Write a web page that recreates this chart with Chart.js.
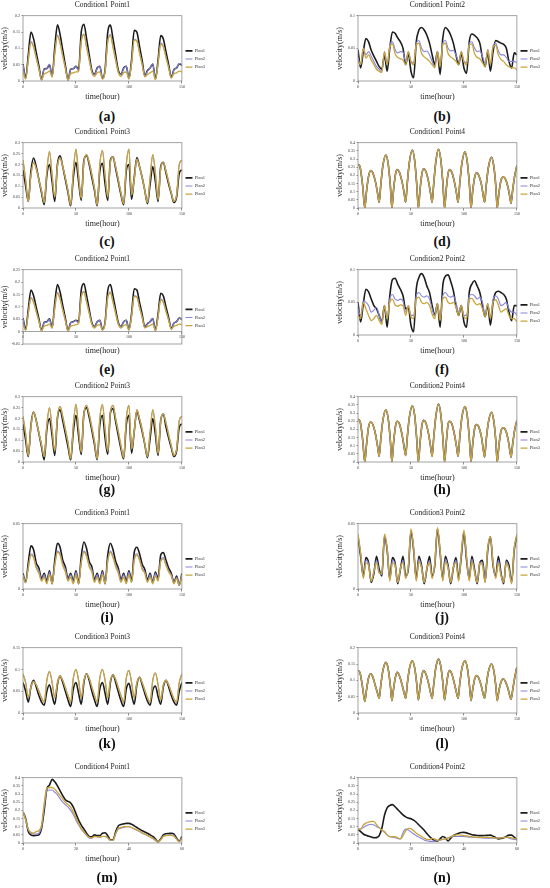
<!DOCTYPE html>
<html>
<head>
<meta charset="utf-8">
<script src="https://cdn.jsdelivr.net/npm/chart.js@4.4.1/dist/chart.umd.min.js"></script>
<style>
  html, body { margin: 0; padding: 0; background: #fff; }
  #fig { position: relative; width: 550px; height: 888px; overflow: hidden; background: #fff; }
  .panel { position: absolute; }
  .tag { position: absolute; font: bold 14px "Liberation Serif", "DejaVu Serif", serif; color: #111;
         transform: translate(-50%, -50%); white-space: nowrap; }
</style>
</head>
<body>
<div id="fig"></div>
<script>
'use strict';

// --- time axes (hours) ---
const T150 = [
  0, 2.5, 5, 7.5, 10, 12.5, 15, 17.5, 20, 22.5,
  25, 27.5, 30, 32.5, 35, 37.5, 40, 42.5, 45, 47.5,
  50, 52.5, 55, 57.5, 60, 62.5, 65, 67.5, 70, 72.5,
  75, 77.5, 80, 82.5, 85, 87.5, 90, 92.5, 95, 97.5,
  100, 102.5, 105, 107.5, 110, 112.5, 115, 117.5, 120, 122.5,
  125, 127.5, 130, 132.5, 135, 137.5, 140, 142.5, 145, 147.5,
  150];
// key times for the Point4 panels (peaks and troughs)
const T150K = [
  0, 2, 4.5, 6.4, 8, 10, 12, 14, 16.5, 18.5,
  20, 21.5, 23.5, 26.3, 28.5, 30.5, 32, 33.6, 35.5, 37,
  39, 41.5, 43.5, 45, 46.5, 48.5, 51.3, 53.5, 55.5, 57,
  58.6, 60.5, 62, 64, 66.5, 68.5, 70, 71.5, 73.5, 76,
  78.2, 80.2, 81.7, 83.3, 85, 86.5, 88.5, 91, 93, 94.5,
  96, 98, 101, 103.2, 105.2, 106.7, 108.3, 110.2, 112, 114,
  116.5, 118, 119.5, 121, 123, 126, 128.2, 130.2, 131.4, 133,
  135, 137, 139, 141.5, 143, 144.5, 146, 148, 150];
const T60 = [
  0, 1, 2, 3, 4, 5, 6, 7, 8, 9,
  10, 11, 12, 13, 14, 15, 16, 17, 18, 19,
  20, 21, 22, 23, 24, 25, 26, 27, 28, 29,
  30, 31, 32, 33, 34, 35, 36, 37, 38, 39,
  40, 41, 42, 43, 44, 45, 46, 47, 48, 49,
  50, 51, 52, 53, 54, 55, 56, 57, 58, 59,
  60];

const PLANS = ['Plan1', 'Plan2', 'Plan3'];

// --- (a) Condition1 Point1 ---
const a1 = [
  .052, .008, .080, .150, .129, .087, .046, .004, .037, .038,
  .050, .015, .103, .172, .143, .095, .048, .003, .036, .038,
  .045, .036, .150, .174, .130, .080, .032, .020, .040, .045,
  .008, .035, .149, .171, .128, .079, .032, .020, .040, .045,
  .008, .065, .155, .150, .106, .062, .016, .032, .040, .052,
  .005, .064, .139, .129, .089, .050, .011, .035, .040, .053,
  .048];
const a2 = [
  .050, .007, .066, .121, .106, .072, .038, .004, .036, .038,
  .052, .013, .085, .141, .118, .078, .040, .003, .035, .038,
  .046, .030, .123, .144, .107, .066, .027, .020, .038, .046,
  .007, .029, .122, .142, .105, .065, .027, .020, .038, .046,
  .007, .054, .128, .124, .087, .051, .014, .030, .040, .053,
  .005, .053, .116, .106, .073, .041, .010, .034, .040, .054,
  .050];
const a3 = [
  .030, .006, .064, .118, .103, .070, .037, .004, .022, .025,
  .030, .012, .083, .138, .115, .076, .038, .003, .022, .025,
  .028, .029, .120, .142, .104, .064, .026, .014, .025, .028,
  .006, .028, .119, .140, .102, .063, .026, .014, .025, .028,
  .006, .052, .126, .122, .086, .050, .013, .020, .025, .030,
  .004, .052, .113, .104, .072, .040, .009, .022, .025, .030,
  .028];

// --- (b) Condition1 Point2 ---
const b1 = [
  .048, .020, .045, .065, .060, .047, .038, .030, .022, .018,
  .040, .015, .050, .075, .073, .066, .060, .050, .025, .042,
  .015, .005, .060, .078, .082, .078, .070, .058, .040, .025,
  .045, .010, .065, .082, .078, .070, .058, .040, .025, .042,
  .020, .012, .060, .072, .070, .066, .058, .035, .022, .044,
  .015, .045, .062, .060, .058, .056, .050, .030, .020, .043,
  .040];
const b2 = [
  .035, .025, .050, .040, .045, .038, .030, .022, .018, .015,
  .045, .025, .055, .060, .048, .043, .045, .044, .030, .045,
  .030, .028, .058, .062, .050, .045, .046, .040, .030, .022,
  .045, .025, .058, .062, .050, .046, .047, .040, .030, .045,
  .030, .028, .058, .060, .050, .045, .046, .038, .027, .048,
  .027, .054, .058, .046, .040, .040, .036, .030, .030, .030,
  .028];
const b3 = [
  .030, .025, .050, .035, .040, .032, .025, .018, .015, .013,
  .045, .025, .052, .057, .042, .036, .034, .032, .025, .045,
  .030, .025, .055, .058, .042, .037, .034, .030, .025, .020,
  .045, .022, .055, .058, .042, .037, .034, .030, .025, .045,
  .030, .025, .055, .057, .042, .036, .034, .028, .022, .048,
  .025, .052, .055, .040, .033, .030, .025, .022, .020, .020,
  .017];

// --- (c) Condition1 Point3 ---
const c1 = [
  .175, .100, .030, .170, .230, .190, .130, .070, .015, .150,
  .200, .120, .030, .200, .240, .190, .130, .070, .010, .140,
  .210, .120, .035, .220, .240, .200, .140, .080, .010, .170,
  .205, .110, .035, .220, .235, .180, .120, .060, .015, .170,
  .200, .040, .140, .232, .190, .140, .080, .020, .110, .190,
  .120, .030, .190, .210, .160, .110, .065, .025, .050, .160,
  .175];
const c3 = [
  .220, .130, .030, .150, .210, .180, .130, .080, .025, .170,
  .260, .150, .050, .190, .230, .190, .140, .080, .015, .170,
  .270, .150, .045, .210, .245, .210, .155, .090, .015, .200,
  .265, .150, .050, .210, .235, .190, .130, .070, .020, .200,
  .270, .060, .130, .225, .190, .140, .080, .025, .140, .245,
  .160, .040, .180, .210, .170, .120, .070, .030, .060, .200,
  .220];
const c2 = c3; // Plan2 lies under Plan3 in the picture

// --- (d) Condition1 Point4 ---
const d1 = [
  .268, .250, .130, 0, .100, .195, .230, .215, .160, .090,
  .035, .140, .260, .325, .270, .140, 0, .113, .210, .235,
  .220, .163, .095, .035, .150, .280, .355, .290, .140, 0,
  .115, .215, .240, .225, .165, .090, .035, .150, .285, .360,
  .295, .145, 0, .115, .210, .235, .220, .160, .090, .035,
  .145, .270, .345, .280, .140, 0, .105, .190, .215, .200,
  .145, .085, .035, .135, .245, .310, .255, .125, 0, .090,
  .170, .190, .180, .130, .080, .030, .110, .200, .260];
const d2 = d1;
const d3 = d1;

// --- (e) Condition2 Point1 ---
const e1 = [
  .055, .008, .090, .168, .145, .098, .052, .005, .037, .040,
  .052, .017, .115, .190, .160, .106, .054, .004, .036, .040,
  .046, .040, .168, .194, .145, .090, .036, .020, .040, .046,
  .008, .039, .166, .190, .143, .088, .036, .020, .040, .046,
  .008, .073, .173, .168, .118, .069, .018, .032, .040, .053,
  .005, .071, .155, .144, .099, .056, .012, .035, .040, .055,
  .050];
const e2 = [
  .052, .007, .075, .138, .121, .082, .043, .004, .036, .039,
  .050, .015, .097, .158, .134, .089, .045, .003, .035, .039,
  .045, .034, .141, .163, .122, .076, .031, .020, .039, .046,
  .007, .033, .139, .160, .120, .074, .031, .020, .039, .046,
  .007, .062, .145, .141, .099, .058, .016, .030, .040, .053,
  .005, .060, .131, .121, .083, .047, .011, .034, .040, .054,
  .050];
const e3 = [
  .030, .006, .072, .135, .118, .080, .042, .004, .022, .025,
  .030, .014, .094, .155, .131, .087, .044, .003, .022, .025,
  .028, .033, .138, .160, .119, .074, .030, .014, .025, .028,
  .006, .032, .136, .157, .117, .072, .030, .014, .025, .028,
  .006, .060, .142, .138, .097, .057, .015, .020, .025, .030,
  .004, .058, .128, .118, .081, .046, .010, .022, .025, .030,
  .028];

// --- (f) Condition2 Point2 ---
const f1 = [
  .050, .020, .048, .070, .066, .055, .045, .040, .030, .020,
  .045, .012, .060, .085, .087, .078, .070, .060, .040, .042,
  .015, .005, .070, .088, .094, .088, .075, .065, .045, .030,
  .048, .012, .075, .090, .092, .082, .068, .045, .030, .045,
  .020, .012, .065, .078, .083, .075, .065, .045, .028, .046,
  .015, .050, .065, .067, .065, .062, .055, .035, .022, .045,
  .045];
const f2 = [
  .040, .030, .052, .050, .045, .035, .038, .042, .030, .020,
  .045, .025, .055, .062, .055, .053, .055, .052, .035, .045,
  .030, .030, .060, .065, .060, .058, .060, .055, .040, .030,
  .048, .028, .060, .065, .060, .058, .060, .050, .035, .045,
  .030, .030, .060, .062, .060, .055, .058, .050, .032, .048,
  .028, .055, .060, .055, .045, .047, .050, .040, .035, .035,
  .030];
const f3 = [
  .030, .025, .050, .040, .030, .022, .025, .030, .022, .016,
  .045, .025, .050, .055, .046, .044, .046, .045, .030, .045,
  .028, .025, .055, .058, .050, .048, .050, .045, .032, .025,
  .048, .022, .055, .058, .050, .048, .050, .043, .030, .045,
  .028, .025, .055, .056, .050, .046, .048, .040, .028, .048,
  .025, .050, .054, .046, .035, .038, .040, .030, .025, .025,
  .020];

// --- (g) Condition2 Point3 ---
const g1 = [
  .175, .100, .025, .170, .230, .190, .130, .070, .010, .150,
  .200, .120, .030, .200, .240, .190, .130, .070, .010, .140,
  .215, .120, .035, .225, .250, .205, .145, .080, .010, .170,
  .215, .110, .035, .225, .245, .185, .120, .060, .015, .170,
  .215, .040, .140, .235, .190, .140, .080, .020, .110, .200,
  .125, .030, .190, .220, .160, .110, .065, .025, .050, .160,
  .175];
const g3 = [
  .210, .130, .030, .160, .230, .190, .135, .080, .025, .170,
  .250, .150, .050, .210, .255, .210, .150, .090, .015, .170,
  .265, .150, .045, .220, .260, .220, .160, .095, .015, .200,
  .265, .150, .050, .230, .260, .200, .140, .075, .020, .200,
  .260, .060, .140, .240, .200, .150, .085, .025, .140, .240,
  .160, .040, .190, .220, .180, .125, .075, .030, .060, .190,
  .210];
const g2 = g3;

// --- (h) Condition2 Point4 ---
const h1 = [
  .262, .248, .130, 0, .105, .215, .245, .230, .170, .095,
  .035, .140, .255, .320, .265, .135, 0, .120, .225, .250,
  .235, .170, .095, .040, .150, .275, .345, .285, .135, 0,
  .120, .230, .255, .240, .175, .095, .035, .150, .280, .355,
  .290, .140, 0, .120, .230, .250, .235, .170, .095, .035,
  .145, .270, .340, .280, .135, 0, .110, .210, .230, .215,
  .155, .090, .030, .135, .240, .305, .250, .120, 0, .100,
  .190, .210, .200, .145, .085, .030, .110, .200, .255];
const h2 = h1;
const h3 = h1;

// --- (i) Condition3 Point1 ---
const i1 = [
  .012, .005, .020, .033, .030, .020, .016, .008, .012, .006,
  .014, .004, .022, .035, .032, .022, .017, .008, .012, .006,
  .014, .004, .025, .036, .031, .021, .017, .007, .012, .006,
  .014, .004, .026, .035, .030, .021, .016, .007, .012, .006,
  .014, .006, .028, .032, .027, .019, .015, .007, .012, .005,
  .013, .008, .026, .028, .022, .016, .012, .005, .010, .003,
  .012];
const i2 = [
  .011, .005, .017, .027, .025, .017, .014, .007, .011, .005,
  .013, .004, .019, .029, .027, .019, .015, .007, .011, .005,
  .013, .004, .021, .029, .026, .018, .015, .006, .011, .005,
  .013, .004, .022, .029, .025, .018, .014, .006, .011, .005,
  .013, .005, .023, .027, .023, .016, .013, .006, .011, .005,
  .012, .007, .022, .024, .019, .014, .011, .005, .009, .003,
  .011];
const i3 = [
  .010, .005, .016, .026, .024, .016, .012, .006, .009, .004,
  .011, .004, .018, .028, .026, .018, .013, .006, .009, .004,
  .011, .004, .020, .028, .025, .017, .013, .005, .009, .004,
  .011, .004, .021, .028, .024, .017, .012, .005, .009, .004,
  .011, .005, .022, .026, .022, .015, .012, .005, .009, .004,
  .010, .006, .021, .023, .018, .013, .010, .004, .008, .003,
  .010];

// --- (j) Condition3 Point2 ---
const j1 = [
  .040, .025, .010, .024, .020, .005, .012, .025, .015, .010,
  .040, .030, .008, .024, .020, .004, .015, .025, .010, .015,
  .044, .030, .008, .025, .018, .004, .015, .025, .010, .018,
  .046, .028, .008, .025, .018, .004, .016, .024, .008, .025,
  .043, .022, .008, .025, .015, .004, .020, .022, .006, .030,
  .040, .018, .010, .025, .012, .004, .022, .018, .005, .030,
  .040];
const j2 = [
  .041, .027, .009, .022, .019, .006, .013, .022, .013, .011,
  .041, .031, .007, .022, .019, .005, .015, .022, .009, .016,
  .045, .031, .007, .023, .017, .005, .015, .022, .009, .019,
  .046, .029, .007, .023, .017, .005, .016, .022, .007, .026,
  .044, .024, .007, .023, .014, .005, .020, .020, .005, .031,
  .040, .019, .009, .022, .011, .005, .021, .016, .005, .031,
  .041];
const j3 = [
  .042, .028, .008, .020, .018, .006, .014, .020, .012, .012,
  .042, .032, .006, .020, .018, .005, .016, .020, .008, .018,
  .046, .032, .006, .021, .016, .005, .016, .020, .008, .020,
  .047, .030, .006, .021, .016, .005, .017, .020, .006, .028,
  .045, .025, .006, .021, .013, .005, .020, .018, .005, .032,
  .040, .020, .008, .020, .010, .005, .020, .015, .004, .032,
  .042];

// --- (k) Condition3 Point3 ---
const k1 = [
  .070, .050, .025, .060, .075, .060, .040, .025, .018, .050,
  .065, .040, .020, .065, .085, .070, .050, .030, .015, .055,
  .070, .045, .020, .070, .090, .075, .050, .030, .015, .055,
  .070, .045, .020, .070, .088, .070, .048, .028, .015, .055,
  .068, .042, .020, .065, .082, .065, .045, .027, .018, .052,
  .062, .038, .020, .060, .075, .060, .040, .025, .018, .050,
  .070];
const k3 = [
  .090, .070, .035, .060, .072, .065, .050, .035, .025, .075,
  .095, .070, .035, .070, .085, .075, .058, .040, .025, .080,
  .100, .075, .035, .075, .090, .080, .060, .040, .025, .080,
  .100, .075, .035, .075, .088, .077, .058, .040, .025, .080,
  .098, .070, .035, .070, .082, .070, .052, .035, .025, .075,
  .092, .065, .030, .065, .075, .065, .048, .032, .025, .070,
  .090];
const k2 = k3;

// --- (l) Condition3 Point4 ---
const l1 = [
  .130, .122, .075, .035, .070, .108, .120, .110, .082, .060,
  .045, .085, .130, .155, .135, .085, .038, .075, .112, .125,
  .115, .088, .062, .045, .088, .135, .160, .138, .088, .040,
  .080, .118, .130, .120, .092, .062, .045, .088, .140, .165,
  .142, .090, .040, .080, .118, .130, .120, .090, .062, .045,
  .088, .135, .160, .138, .085, .038, .072, .105, .115, .107,
  .082, .060, .045, .082, .125, .150, .130, .080, .038, .068,
  .095, .105, .098, .076, .056, .042, .070, .110, .140];
const l2 = l1;
const l3 = l1;

// --- (m) Condition4 Point1 ---
const m1 = [
  .190, .150, .070, .050, .045, .047, .050, .090, .200, .330,
  .355, .390, .375, .350, .320, .290, .265, .255, .245, .220,
  .180, .140, .110, .085, .060, .040, .038, .050, .045, .045,
  .060, .063, .045, .020, .020, .070, .105, .113, .117, .120,
  .120, .115, .105, .095, .085, .075, .068, .060, .050, .040,
  .025, .008, .025, .050, .057, .058, .060, .055, .030, .010,
  .040];
const m2 = [
  .190, .140, .080, .060, .055, .055, .060, .100, .220, .320,
  .325, .325, .310, .295, .270, .250, .235, .220, .200, .175,
  .140, .110, .085, .065, .045, .030, .030, .040, .038, .035,
  .040, .040, .030, .015, .015, .055, .085, .090, .095, .100,
  .100, .095, .085, .078, .070, .060, .053, .045, .037, .028,
  .015, .005, .020, .042, .048, .050, .050, .045, .025, .008,
  .030];
const m3 = [
  .190, .145, .085, .065, .060, .070, .075, .110, .240, .335,
  .340, .340, .330, .310, .290, .270, .250, .235, .220, .190,
  .155, .120, .090, .070, .050, .035, .032, .040, .038, .037,
  .040, .040, .032, .018, .018, .060, .090, .095, .100, .100,
  .100, .095, .088, .080, .072, .063, .055, .047, .038, .030,
  .018, .006, .020, .040, .045, .047, .047, .042, .022, .008,
  .030];

// --- (n) Condition4 Point2 ---
const n1 = [
  .085, .070, .055, .047, .042, .037, .032, .033, .045, .090,
  .170, .215, .230, .235, .222, .205, .188, .172, .160, .153,
  .148, .140, .127, .110, .095, .078, .058, .040, .025, .014,
  .012, .025, .040, .032, .012, .030, .045, .053, .060, .064,
  .065, .062, .056, .051, .048, .046, .045, .045, .046, .047,
  .048, .042, .033, .025, .027, .032, .040, .048, .048, .036,
  .020];
const n2 = [
  .085, .085, .095, .105, .112, .115, .110, .100, .093, .080,
  .065, .050, .040, .036, .032, .028, .025, .065, .085, .080,
  .068, .055, .045, .036, .028, .018, .013, .010, .010, .012,
  .015, .018, .022, .026, .032, .038, .040, .040, .040, .040,
  .040, .038, .036, .035, .034, .033, .032, .031, .030, .030,
  .030, .030, .031, .032, .033, .035, .035, .030, .025, .022,
  .020];
const n3 = [
  .085, .085, .110, .122, .128, .133, .132, .112, .094, .080,
  .070, .050, .037, .038, .039, .032, .025, .045, .075, .090,
  .088, .075, .060, .050, .040, .030, .022, .020, .028, .025,
  .017, .018, .022, .025, .030, .038, .045, .050, .050, .048,
  .045, .043, .040, .038, .036, .035, .035, .035, .035, .035,
  .034, .032, .030, .030, .031, .033, .035, .035, .032, .027,
  .025];

// --- layout ---
const FONT = '"Liberation Serif", "DejaVu Serif", serif';
const PW = 215, PH = 102;
const TITLE_Y = [5, 132, 259, 386, 513, 637, 767];
const TAG_Y = [117, 242, 370, 490, 618, 744, 878];
const COLORS = ['#1c1c1c', '#8585dc', '#c8a43a'];
const WIDTHS = [1.6, 1.1, 1.3];

const panels = [
  { tag: '(a)', row: 0, col: 0, title: 'Condition1 Point1', t: T150, s: [a1, a2, a3], y: [0, 0.2] },
  { tag: '(b)', row: 0, col: 1, title: 'Condition1 Point2', t: T150, s: [b1, b2, b3], y: [0, 0.1] },
  { tag: '(c)', row: 1, col: 0, title: 'Condition1 Point3', t: T150, s: [c1, c2, c3], y: [0, 0.3] },
  { tag: '(d)', row: 1, col: 1, title: 'Condition1 Point4', t: T150K, s: [d1, d2, d3], y: [0, 0.4] },
  { tag: '(e)', row: 2, col: 0, title: 'Condition2 Point1', t: T150, s: [e1, e2, e3], y: [-0.05, 0.25], zero: true },
  { tag: '(f)', row: 2, col: 1, title: 'Condition2 Point2', t: T150, s: [f1, f2, f3], y: [0, 0.1] },
  { tag: '(g)', row: 3, col: 0, title: 'Condition2 Point3', t: T150, s: [g1, g2, g3], y: [0, 0.3] },
  { tag: '(h)', row: 3, col: 1, title: 'Condition2 Point4', t: T150K, s: [h1, h2, h3], y: [0, 0.4] },
  { tag: '(i)', row: 4, col: 0, title: 'Condition3 Point1', t: T150, s: [i1, i2, i3], y: [0, 0.05] },
  { tag: '(j)', row: 4, col: 1, title: 'Condition3 Point2', t: T150, s: [j1, j2, j3], y: [0, 0.05] },
  { tag: '(k)', row: 5, col: 0, title: 'Condition3 Point3', t: T150, s: [k1, k2, k3], y: [0, 0.15] },
  { tag: '(l)', row: 5, col: 1, title: 'Condition3 Point4', t: T150K, s: [l1, l2, l3], y: [0, 0.2] },
  { tag: '(m)', row: 6, col: 0, title: 'Condition4 Point1', t: T60, s: [m1, m2, m3], y: [0, 0.4], xMax: 60 },
  { tag: '(n)', row: 6, col: 1, title: 'Condition4 Point2', t: T60, s: [n1, n2, n3], y: [0, 0.4], xMax: 60 },
];

Chart.defaults.font.family = FONT;
Chart.defaults.color = '#333';
Chart.defaults.animation = false;

// grey box round the plot area, like the spreadsheet export
const frame = {
  id: 'frame',
  afterDatasetsDraw(chart) {
    const { ctx, chartArea: a } = chart;
    ctx.save();
    ctx.strokeStyle = '#8c8c8c';
    ctx.lineWidth = 0.8;
    ctx.strokeRect(a.left, a.top, a.width, a.height);
    ctx.restore();
  },
};

// 0.20 -> "0.2", like the original axis labels
const shortNum = v => String(Number(Number(v).toFixed(3)));

const fig = document.getElementById('fig');

function buildPanel(p) {
  const left = p.col ? 335 : 0;
  const top = TITLE_Y[p.row] - 5;
  const plotBottom = p.zero ? 90 : 81;
  const xMax = p.xMax || 150;

  const wrap = document.createElement('div');
  wrap.className = 'panel';
  wrap.style.left = left + 'px';
  wrap.style.top = top + 'px';
  const cv = document.createElement('canvas');
  cv.width = PW; cv.height = PH;
  cv.style.width = PW + 'px'; cv.style.height = PH + 'px';
  wrap.appendChild(cv);
  fig.appendChild(wrap);

  const tickFont = { size: 4 };
  const scales = {
    x: {
      type: 'linear', min: 0, max: xMax,
      ticks: { stepSize: xMax / 3, font: tickFont, padding: 1, maxRotation: 0, autoSkip: false,
               display: !p.zero, callback: shortNum },
      grid: { display: !p.zero, drawOnChartArea: false, tickLength: 2.5, color: '#8c8c8c' },
      border: { display: false },
      title: { display: true, text: 'time(hour)', font: { size: 8 }, color: '#222', padding: 0 },
      afterFit(s) { s.height = PH - plotBottom; },
    },
    y: {
      min: p.y[0], max: p.y[1],
      ticks: { stepSize: 0.05, font: tickFont, padding: 1.5, autoSkip: false, callback: shortNum },
      grid: { drawOnChartArea: false, tickLength: 1.5, color: '#8c8c8c' },
      border: { display: false },
      title: { display: true, text: 'velocity(m/s)', font: { size: 8 }, color: '#222', padding: 0 },
      afterFit(s) { s.width = 23; },
    },
  };
  if (p.zero) {
    scales.x0 = {
      type: 'linear', position: { y: 0 }, min: 0, max: xMax,
      ticks: { stepSize: 50, font: tickFont, padding: 1, maxRotation: 0, autoSkip: false, callback: shortNum },
      grid: { drawOnChartArea: false, tickLength: 2, color: '#8c8c8c' },
      border: { display: true, color: '#8c8c8c', width: 0.8 },
    };
  }

  new Chart(cv.getContext('2d'), {
    type: 'line',
    data: {
      datasets: p.s.map((vals, k) => ({
        label: PLANS[k],
        data: p.t.map((t, i) => ({ x: t, y: vals[i] })),
        borderColor: COLORS[k],
        backgroundColor: COLORS[k],
        borderWidth: WIDTHS[k],
        pointRadius: 0,
        cubicInterpolationMode: 'monotone',
        fill: false,
        order: 3 - k,
      })),
    },
    options: {
      responsive: false,
      layout: { padding: { left: 0, right: 0, top: 0, bottom: 0 } },
      scales,
      plugins: {
        title: {
          display: true, text: p.title, fullSize: false,
          font: { size: 7.5, weight: 'normal' }, color: '#222',
          padding: { top: 0.5, bottom: 6.2 },
        },
        legend: {
          position: 'right', align: 'center', fullSize: false,
          title: { display: true, text: '', font: { size: 1 }, padding: { top: 0, bottom: 20 } },
          labels: {
            font: { size: 4.5 }, color: '#333',
            usePointStyle: true, pointStyle: 'line', pointStyleWidth: 7, boxHeight: 4.5,
            padding: 3.6,
            sort: (a, b) => a.datasetIndex - b.datasetIndex,
          },
        },
        tooltip: { enabled: false },
      },
    },
    plugins: [frame],
  });

  const tag = document.createElement('div');
  tag.className = 'tag';
  tag.textContent = p.tag;
  tag.style.left = (p.col ? 442 : 107) + 'px';
  tag.style.top = TAG_Y[p.row] + 'px';
  fig.appendChild(tag);
}

panels.forEach(buildPanel);
</script>
</body>
</html>
